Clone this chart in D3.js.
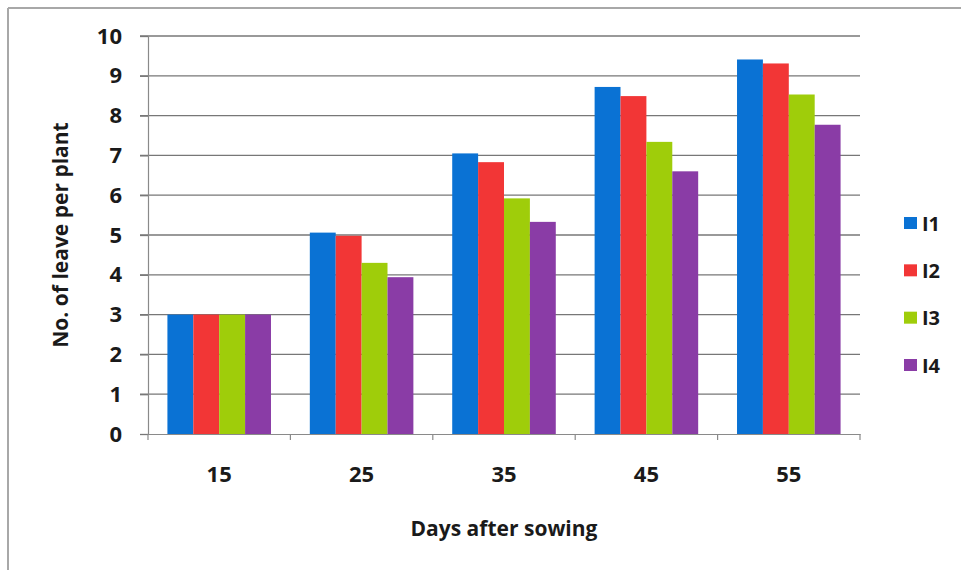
<!DOCTYPE html>
<html>
<head>
<meta charset="utf-8">
<script src="https://cdn.jsdelivr.net/npm/d3@7"></script>
<style>
  html, body { margin: 0; padding: 0; background: #fff; }
  svg { display: block; }
  text { font-family: "Open Sans", "Liberation Sans", sans-serif; font-weight: 700; fill: #1a1a1a; }
</style>
</head>
<body>
<svg id="chart" width="961" height="570"></svg>
<script>
const categories = ["15", "25", "35", "45", "55"];
const seriesNames = ["I1", "I2", "I3", "I4"];
const I1 = [3.0, 5.06, 7.05, 8.72, 9.41];
const I2 = [3.0, 4.98, 6.83, 8.49, 9.31];
const I3 = [3.0, 4.30, 5.92, 7.34, 8.53];
const I4 = [3.0, 3.94, 5.33, 6.60, 7.77];
const yTicks = [0, 1, 2, 3, 4, 5, 6, 7, 8, 9, 10];
const colors = ["#0a72d4", "#f23636", "#9fcd0a", "#8a3ca6"];
const xTitle = "Days after sowing";
const yTitle = "No. of leave per plant";

const seriesValues = [I1, I2, I3, I4];

const svg = d3.select("#chart");
const plot = { left: 148, right: 860, top: 36, bottom: 434 };

// outer frame (top and left only, as in the picture)
svg.append("line").attr("x1", 8).attr("y1", 8).attr("x2", 961).attr("y2", 8)
  .attr("stroke", "#a8a8a8").attr("stroke-width", 2);
svg.append("line").attr("x1", 8).attr("y1", 8).attr("x2", 8).attr("y2", 570)
  .attr("stroke", "#a8a8a8").attr("stroke-width", 2);

const x0 = d3.scaleBand().domain(categories).range([plot.left, plot.right]).paddingInner(0).paddingOuter(0);
// Excel gap width 150%: 4 bars + 1.5 bar gap
const x1 = d3.scaleBand().domain(seriesNames).range([0, x0.bandwidth()])
  .paddingInner(0).paddingOuter(0.75);
const y = d3.scaleLinear().domain([0, 10]).range([plot.bottom, plot.top]);

// gridlines
svg.append("g").selectAll("line").data(yTicks.filter(d => d > 0)).join("line")
  .attr("x1", plot.left - 8).attr("x2", plot.right)
  .attr("y1", d => y(d)).attr("y2", d => y(d))
  .attr("stroke", "#777").attr("stroke-width", 1.3);

// y axis
const yAxis = svg.append("g").attr("transform", `translate(${plot.left},0)`)
  .call(d3.axisLeft(y).tickValues(yTicks).tickSize(8).tickPadding(18).tickFormat(d3.format("d")));
yAxis.select(".domain").attr("stroke", "#8a8a8a").attr("stroke-width", 1.2);
yAxis.selectAll(".tick line").attr("stroke", "#777").attr("stroke-width", 1.3);
yAxis.selectAll("text").style("font-size", "22px").attr("fill", "#1a1a1a")
  .style("font-family", "'Open Sans', sans-serif").style("font-weight", 700);

// bars
const groups = svg.append("g").selectAll("g").data(categories).join("g")
  .attr("transform", d => `translate(${x0(d)},0)`);
groups.selectAll("rect")
  .data((c, i) => seriesNames.map((s, j) => ({ s, j, v: seriesValues[j][i] })))
  .join("rect")
  .attr("x", d => x1(d.s))
  .attr("width", x1.bandwidth())
  .attr("y", d => y(d.v))
  .attr("height", d => y(0) - y(d.v))
  .attr("fill", d => colors[d.j]);

// x axis
const xAxis = svg.append("g").attr("transform", `translate(0,${plot.bottom})`)
  .call(d3.axisBottom(x0).tickSize(0).tickPadding(32));
xAxis.select(".domain").attr("stroke", "#8a8a8a").attr("stroke-width", 1.2);
xAxis.selectAll("text").style("font-size", "22px").attr("fill", "#1a1a1a")
  .style("font-family", "'Open Sans', sans-serif").style("font-weight", 700);
// tick marks at category boundaries
const bounds = categories.map(c => x0(c)).concat([plot.right]);
svg.append("g").selectAll("line").data(bounds).join("line")
  .attr("x1", d => d).attr("x2", d => d)
  .attr("y1", plot.bottom).attr("y2", plot.bottom + 6)
  .attr("stroke", "#8a8a8a").attr("stroke-width", 1.2);

// axis titles
svg.append("text").attr("x", (plot.left + plot.right) / 2).attr("y", 528)
  .attr("text-anchor", "middle").attr("dominant-baseline", "central")
  .style("font-size", "21px").text(xTitle);
svg.append("text").attr("transform", "translate(60,235) rotate(-90)")
  .attr("text-anchor", "middle").attr("dominant-baseline", "central")
  .style("font-size", "21px").text(yTitle);

// legend
const legendY = d3.scalePoint().domain(seriesNames).range([223, 365]);
const lg = svg.append("g").selectAll("g").data(seriesNames).join("g")
  .attr("transform", d => `translate(904,${legendY(d)})`);
lg.append("rect").attr("x", 0).attr("y", -6).attr("width", 13).attr("height", 12)
  .attr("fill", (d, i) => colors[i]);
lg.append("text").attr("x", 18).attr("y", 0).attr("dominant-baseline", "central")
  .style("font-size", "20px").text(d => d);
</script>
</body>
</html>
